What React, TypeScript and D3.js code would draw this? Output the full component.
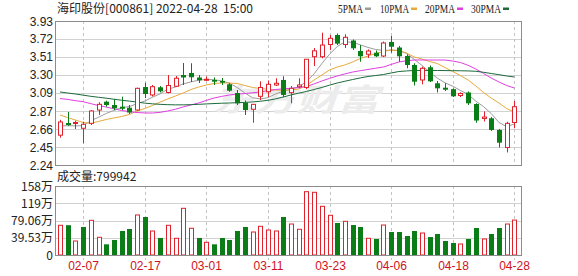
import React from "react";
import * as d3 from "d3";

const dates = [
  "01-26","01-27","01-28","02-07","02-08","02-09","02-10","02-11","02-14","02-15",
  "02-16","02-17","02-18","02-21","02-22","02-23","02-24","02-25","02-28","03-01",
  "03-02","03-03","03-04","03-07","03-08","03-09","03-10","03-11","03-14","03-15",
  "03-16","03-17","03-18","03-21","03-22","03-23","03-24","03-25","03-28","03-29",
  "03-30","03-31","04-01","04-06","04-07","04-08","04-11","04-12","04-13","04-14",
  "04-15","04-18","04-19","04-20","04-21","04-22","04-25","04-26","04-27","04-28",
];

const opens = [
  2.59, 2.733, 2.727, 2.671, 2.729, 2.885, 2.983, 2.944, 2.924, 2.912,
  2.885, 3.155, 3.062, 3.152, 3.091, 3.164, 3.296, 3.32, 3.267, 3.234,
  3.238, 3.226, 3.187, 3.085, 2.973, 2.894, 3.046, 3.1, 3.179, 3.238,
  3.089, 3.159, 3.15, 3.511, 3.511, 3.654, 3.766, 3.654, 3.701, 3.578,
  3.54, 3.558, 3.519, 3.684, 3.619, 3.519, 3.414, 3.238, 3.387, 3.199,
  3.147, 3.13, 3.056, 3.091, 2.956, 2.786, 2.788, 2.651, 2.445, 2.739,
];
const highs = [
  2.77, 2.862, 2.76, 2.748, 2.885, 2.976, 2.995, 3.015, 3.042, 2.944,
  3.147, 3.206, 3.179, 3.167, 3.296, 3.285, 3.437, 3.434, 3.296, 3.279,
  3.267, 3.261, 3.202, 3.12, 2.997, 2.952, 3.222, 3.232, 3.258, 3.281,
  3.167, 3.258, 3.481, 3.613, 3.793, 3.766, 3.783, 3.774, 3.713, 3.648,
  3.596, 3.584, 3.689, 3.754, 3.637, 3.539, 3.434, 3.394, 3.408, 3.226,
  3.199, 3.138, 3.093, 3.103, 2.964, 2.868, 2.803, 2.663, 2.748, 2.991,
];
const lows = [
  2.56, 2.7, 2.663, 2.495, 2.709, 2.827, 2.924, 2.885, 2.885, 2.839,
  2.874, 3.026, 3.044, 3.091, 3.081, 3.155, 3.179, 3.214, 3.202, 3.226,
  3.179, 3.179, 3.1, 2.944, 2.827, 2.736, 3.003, 3.038, 3.167, 3.038,
  2.964, 3.14, 3.132, 3.402, 3.492, 3.59, 3.648, 3.613, 3.59, 3.452,
  3.496, 3.507, 3.507, 3.558, 3.452, 3.375, 3.173, 3.187, 3.214, 3.091,
  3.108, 3.038, 3.038, 2.944, 2.736, 2.751, 2.639, 2.445, 2.387, 2.671,
];
const closes = [
  2.745, 2.709, 2.739, 2.718, 2.874, 2.952, 2.944, 2.906, 2.9, 2.856,
  3.14, 3.073, 3.159, 3.105, 3.173, 3.258, 3.267, 3.27, 3.234, 3.246,
  3.218, 3.206, 3.112, 2.964, 2.885, 2.952, 3.15, 3.187, 3.199, 3.062,
  3.14, 3.179, 3.481, 3.58, 3.648, 3.727, 3.664, 3.739, 3.61, 3.516,
  3.578, 3.516, 3.672, 3.628, 3.516, 3.414, 3.218, 3.375, 3.222, 3.14,
  3.124, 3.046, 3.079, 2.964, 2.762, 2.803, 2.651, 2.502, 2.729, 2.924,
];

// volume in 万
const volumes = [
  68.1, 68.3, 32.1, 64.2, 79.5, 40.6, 24.5, 34.4, 55.0, 59.6,
  91.7, 87.1, 55.0, 39.0, 68.1, 38.3, 107.0, 61.2, 39.0, 29.1,
  24.5, 39.0, 34.4, 55.0, 64.2, 52.7, 65.8, 57.3, 55.0, 87.1,
  71.0, 58.9, 145.1, 143.7, 111.6, 91.0, 73.3, 77.2, 68.7, 64.2,
  38.3, 36.7, 68.7, 52.7, 52.7, 43.5, 55.0, 50.4, 41.2, 48.1,
  32.1, 27.5, 25.2, 36.7, 61.9, 36.7, 48.1, 61.9, 71.0, 79.99,
];
// 1 = up day (red), 0 = down day (green) for the volume bars
const volumeUp = [
  1, 0, 1, 0, 1, 1, 0, 0, 0, 0,
  1, 0, 1, 0, 1, 1, 1, 1, 0, 1,
  0, 0, 0, 0, 0, 1, 1, 1, 1, 0,
  1, 1, 1, 1, 1, 1, 0, 1, 0, 0,
  1, 0, 1, 0, 0, 0, 0, 1, 0, 0,
  0, 0, 1, 0, 0, 1, 0, 0, 1, 1,
];

const ma5 = [
  2.7, 2.7, 2.7, 2.7, 2.76, 2.8, 2.845, 2.88, 2.915, 2.925,
  2.96, 2.99, 3.035, 3.075, 3.13, 3.155, 3.192, 3.215, 3.235, 3.245,
  3.24, 3.228, 3.2, 3.15, 3.085, 3.03, 3.015, 3.03, 3.075, 3.105,
  3.135, 3.155, 3.22, 3.31, 3.43, 3.54, 3.63, 3.685, 3.68, 3.65,
  3.62, 3.595, 3.585, 3.588, 3.582, 3.55, 3.48, 3.41, 3.33, 3.26,
  3.205, 3.165, 3.115, 3.068, 2.99, 2.925, 2.845, 2.74, 2.69, 2.722,
];
const ma10 = [
  2.827, 2.797, 2.768, 2.739, 2.729, 2.751, 2.774, 2.792, 2.809, 2.833,
  2.874, 2.903, 2.938, 2.979, 3.015, 3.05, 3.085, 3.126, 3.155, 3.179,
  3.197, 3.202, 3.202, 3.197, 3.173, 3.15, 3.138, 3.128, 3.12, 3.117,
  3.12, 3.132, 3.173, 3.238, 3.296, 3.355, 3.39, 3.414, 3.449, 3.49,
  3.519, 3.549, 3.572, 3.59, 3.584, 3.554, 3.508, 3.484, 3.455, 3.431,
  3.384, 3.337, 3.29, 3.238, 3.167, 3.091, 3.026, 2.968, 2.903, 2.862,
];
const ma20 = [
  3.02, 3.01, 2.995, 2.983, 2.96, 2.938, 2.92, 2.9, 2.88, 2.866,
  2.856, 2.851, 2.85, 2.858, 2.874, 2.895, 2.921, 2.945, 2.968, 2.998,
  3.026, 3.045, 3.062, 3.072, 3.079, 3.088, 3.097, 3.112, 3.126, 3.134,
  3.14, 3.148, 3.161, 3.192, 3.226, 3.257, 3.285, 3.309, 3.331, 3.347,
  3.361, 3.376, 3.39, 3.42, 3.449, 3.463, 3.472, 3.473, 3.472, 3.472,
  3.472, 3.46, 3.443, 3.41, 3.367, 3.315, 3.261, 3.215, 3.173, 3.144,
];
const ma30 = [
  3.097, 3.085, 3.073, 3.06, 3.046, 3.035, 3.024, 3.012, 3.0, 2.99,
  2.978, 2.966, 2.958, 2.952, 2.948, 2.946, 2.946, 2.948, 2.952, 2.957,
  2.961, 2.965, 2.968, 2.971, 2.975, 2.98, 2.988, 2.999, 3.016, 3.038,
  3.062, 3.083, 3.103, 3.126, 3.15, 3.177, 3.202, 3.223, 3.243, 3.262,
  3.279, 3.29, 3.302, 3.32, 3.337, 3.344, 3.349, 3.35, 3.35, 3.349,
  3.348, 3.347, 3.346, 3.344, 3.34, 3.328, 3.314, 3.3, 3.285, 3.273,
];

const priceTickValues = [3.93, 3.72, 3.51, 3.3, 3.09, 2.87, 2.66, 2.45, 2.24];
const priceTickLabels = ["3.93", "3.72", "3.51", "3.30", "3.09", "2.87", "2.66", "2.45", "2.24"];
const volumeTickValues = [158.12, 118.59, 79.06, 39.53, 0];
const volumeTickLabels = ["158万", "119万", "79.06万", "39.53万", "0"];
const dateTicks = ["02-07", "02-17", "03-01", "03-11", "03-23", "04-06", "04-18", "04-28"];

const titleText = "海印股份[000861] 2022-04-28  15:00";
const volumeTitle = "成交量:799942";
const maNames = ["5PMA", "10PMA", "20PMA", "30PMA"];

const RED = "#e0202a";
const GREEN = "#0b7d16";
const MA_COLORS = ["#9c9c9c", "#e8a93a", "#e03ee0", "#1c6a3c"];

const FONT = "'Liberation Sans', Arial, sans-serif";
const CJK = "'Noto Sans CJK SC', 'Liberation Sans', sans-serif";

export default function App() {
  const W = 578;
  const H = 276;
  const left = 55.5;
  const right = 521.5;
  const mainTop = 21;
  const mainBottom = 165;
  const volTop = 186;
  const volBottom = 255;

  const x = d3.scaleBand<string>().domain(dates).range([56.15, 518.15]).padding(0);
  const cx = (i: number) => Math.round((x(dates[i]) as number) + x.bandwidth() / 2);

  const y = d3.scaleLinear().domain([2.24, 3.93]).range([mainBottom, mainTop]);
  const yv = d3.scaleLinear().domain([0, 158.12]).range([volBottom, volTop]);

  const mas = [ma5, ma10, ma20, ma30];
  const line = d3
    .line<number>()
    .x((_, i) => (x(dates[i]) as number) + x.bandwidth() / 2)
    .y((d) => y(d))
    .curve(d3.curveLinear);

  const crisp = (v: number) => Math.round(v) + 0.5;

  return (
    <svg width={W} height={H} style={{ display: "block", position: "absolute", left: 0, top: 0 }}>
      <rect x={0} y={0} width={W} height={H} fill="#fff" />
      {/* title */}
      <text x={57} y={12.5} fontFamily={CJK} fontSize={12} fill="#222" textLength={196} lengthAdjust="spacingAndGlyphs" style={{ whiteSpace: "pre" }}>
        {titleText}
      </text>
      {/* legend */}
      {maNames.map((n, k) => {
        const lx = [338, 380, 425, 471][k];
        const lw = [25, 29, 30, 30][k];
        return (
          <g key={n}>
            <text x={lx} y={12.5} fontFamily="'Liberation Serif', serif" fontSize={11.5} fill="#222" textLength={lw} lengthAdjust="spacingAndGlyphs">
              {n}
            </text>
            <rect x={lx + lw + 2} y={7.5} width={6} height={2.5} fill={MA_COLORS[k]} />
          </g>
        );
      })}

      {/* main grid */}
      {priceTickValues.map((v, k) => (
        <g key={"pt" + k}>
          <line x1={left} x2={right} y1={crisp(y(v))} y2={crisp(y(v))} stroke="#d2d2d2" strokeWidth={1} />
          <text x={53} y={y(v) + 4.5} textAnchor="end" fontFamily={FONT} fontSize={12} fill="#222">
            {priceTickLabels[k]}
          </text>
        </g>
      ))}
      {dateTicks.map((d) => (
        <line key={"vg" + d} x1={cx(dates.indexOf(d)) + 0.5} x2={cx(dates.indexOf(d)) + 0.5} y1={mainTop} y2={mainBottom} stroke="#c4c4c4" strokeDasharray="3,3" />
      ))}

      {/* watermark */}
      <text x={213} y={111} fontFamily={CJK} fontWeight="bold" fontStyle="italic" fontSize={31} fill="#ececec" textLength={166} lengthAdjust="spacingAndGlyphs">
        东方财富
      </text>

      {/* MA lines */}
      {mas.map((m, k) => (
        <path key={"ma" + k} d={line(m) || ""} fill="none" stroke={MA_COLORS[k]} strokeWidth={1} />
      ))}

      {/* candles */}
      {dates.map((d, i) => {
        const o = opens[i];
        const c = closes[i];
        const up = c >= o;
        const col = up ? RED : GREEN;
        const xc = cx(i);
        const top = y(Math.max(o, c));
        const bot = y(Math.min(o, c));
        const h = Math.max(bot - top, 1);
        return (
          <g key={"c" + i}>
            <line x1={xc + 0.5} x2={xc + 0.5} y1={y(highs[i])} y2={y(lows[i])} stroke={col} strokeWidth={1} />
            {up ? (
              <rect x={xc - 1.5} y={top} width={4} height={h} fill="#fff" stroke={col} strokeWidth={1} />
            ) : (
              <rect x={xc - 2} y={top} width={5} height={h} fill={col} />
            )}
          </g>
        );
      })}

      {/* main border */}
      <rect x={left} y={mainTop + 0.5} width={right - left} height={mainBottom - mainTop} fill="none" stroke="#8c8c8c" strokeWidth={1} />

      {/* volume */}
      <text x={57} y={181} fontFamily={CJK} fontSize={12} fill="#222">
        {volumeTitle}
      </text>
      {volumeTickValues.map((v, k) => (
        <g key={"vt" + k}>
          <line x1={left} x2={right} y1={crisp(yv(v))} y2={crisp(yv(v))} stroke="#d2d2d2" strokeWidth={1} />
          <text x={53} y={yv(v) + 4.5} textAnchor="end" fontFamily={CJK} fontSize={12} fill="#222">
            {volumeTickLabels[k]}
          </text>
        </g>
      ))}
      {dateTicks.map((d) => (
        <line key={"vv" + d} x1={cx(dates.indexOf(d)) + 0.5} x2={cx(dates.indexOf(d)) + 0.5} y1={volTop} y2={volBottom + 5} stroke="#c4c4c4" strokeDasharray="3,3" />
      ))}
      {dates.map((d, i) => {
        const xc = cx(i);
        const top = yv(volumes[i]);
        const up = volumeUp[i] === 1;
        const col = up ? RED : GREEN;
        return up ? (
          <rect key={"v" + i} x={xc - 1.5} y={top} width={4} height={yv(0) - top} fill="#fff" stroke={col} strokeWidth={1} />
        ) : (
          <rect key={"v" + i} x={xc - 2} y={top} width={5} height={yv(0) - top + 0.5} fill={col} />
        );
      })}
      <rect x={left} y={volTop + 0.5} width={right - left} height={volBottom - volTop} fill="none" stroke="#8c8c8c" strokeWidth={1} />

      {/* date labels */}
      {dateTicks.map((d) => (
        <text key={"dl" + d} x={cx(dates.indexOf(d)) + 0.5} y={270} textAnchor="middle" fontFamily={FONT} fontSize={12} fill="#d0121b">
          {d}
        </text>
      ))}
    </svg>
  );
}
